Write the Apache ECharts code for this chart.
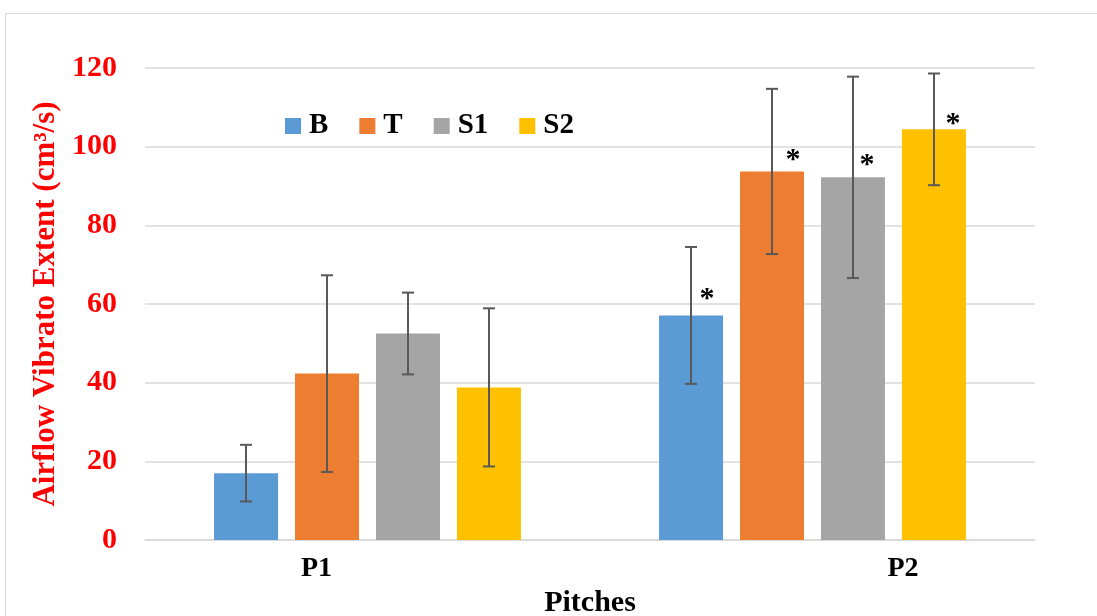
<!DOCTYPE html>
<html>
<head>
<meta charset="utf-8">
<script src="https://cdn.jsdelivr.net/npm/echarts@6/dist/echarts.min.js"></script>
<style>
html,body{margin:0;padding:0;background:#fff;}
#chart{width:1097px;height:616px;}
</style>
</head>
<body>
<div id="chart"></div>
<script>
const categories = ['P1', 'P2'];
const seriesNames = ['B', 'T', 'S1', 'S2'];
const meanB  = [17.0, 57.1];
const meanT  = [42.3, 93.7];
const meanS1 = [52.5, 92.2];
const meanS2 = [38.8, 104.4];
const errB  = [7.2, 17.4];
const errT  = [25.0, 21.0];
const errS1 = [10.4, 25.6];
const errS2 = [20.1, 14.2];
const significant = [false, true];
const yTicks = [0, 20, 40, 60, 80, 100, 120];

const means = [meanB, meanT, meanS1, meanS2];
const errs = [errB, errT, errS1, errS2];
const colors = ['#5B9BD5', '#ED7D31', '#A5A5A5', '#FFC000'];
const starOffsets = [[16, -6], [21, -1], [14, -2], [19, 5]];
const barOffsets = [-0.273, -0.091, 0.091, 0.273];
const serif = '"Liberation Serif", "Times New Roman", serif';

const chart = echarts.init(document.getElementById('chart'), null, {renderer: 'canvas'});

const series = [];
means.forEach((m, i) => {
  series.push({
    name: seriesNames[i],
    type: 'bar',
    barWidth: 64,
    barGap: '26.5%',
    itemStyle: {color: colors[i]},
    data: m.map((v, j) => ({
      value: v,
      label: {
        show: significant[j],
        position: 'top',
        distance: -5,
        offset: starOffsets[i],
        formatter: '*',
        color: '#000',
        fontFamily: serif,
        fontWeight: 'bold',
        fontSize: 30
      }
    }))
  });
});
means.forEach((m, i) => {
  series.push({
    type: 'custom',
    silent: true,
    z: 10,
    data: m.map((v, j) => [j, v - errs[i][j], v + errs[i][j]]),
    encode: {x: 0, y: [1, 2]},
    renderItem: function (params, api) {
      const band = api.size([1, 0])[0];
      const idx = api.value(0);
      const xc = api.coord([idx, 0])[0] + barOffsets[i] * band;
      const yl = api.coord([idx, api.value(1)])[1];
      const yh = api.coord([idx, api.value(2)])[1];
      const st = {stroke: '#595959', lineWidth: 2};
      const cap = 6;
      return {
        type: 'group',
        children: [
          {type: 'line', shape: {x1: xc, y1: yl, x2: xc, y2: yh}, style: st},
          {type: 'line', shape: {x1: xc - cap, y1: yh, x2: xc + cap, y2: yh}, style: st},
          {type: 'line', shape: {x1: xc - cap, y1: yl, x2: xc + cap, y2: yl}, style: st}
        ]
      };
    }
  });
});

chart.setOption({
  animation: false,
  backgroundColor: '#fff',
  graphic: [{
    type: 'rect',
    shape: {x: 5.5, y: 13.5, width: 1200, height: 800},
    style: {fill: 'none', stroke: '#d9d9d9', lineWidth: 1},
    silent: true
  }],
  legend: {
    data: seriesNames,
    left: 280,
    top: 104,
    icon: 'rect',
    itemWidth: 16,
    itemHeight: 16,
    itemGap: 31,
    textStyle: {
      fontFamily: serif,
      fontWeight: 'bold',
      fontSize: 29,
      color: '#000',
      lineHeight: 34,
      padding: [0, 0, 0, 3]
    }
  },
  grid: {left: 145, right: 62, top: 68, bottom: 76, outerBoundsMode: 'none', containLabel: false},
  xAxis: {
    type: 'category',
    data: categories,
    axisTick: {show: false},
    axisLine: {lineStyle: {color: '#d9d9d9', width: 1.5}},
    axisLabel: {
      margin: 15,
      formatter: function (v) { return v === 'P1' ? '{a|' + v + '}' : '{b|' + v + '}'; },
      rich: {
        a: {fontFamily: serif, fontWeight: 'bold', fontSize: 28, color: '#000', padding: [0, 102, 0, 0]},
        b: {fontFamily: serif, fontWeight: 'bold', fontSize: 28, color: '#000', padding: [0, 0, 0, 181]}
      }
    },
    name: 'Pitches',
    nameLocation: 'middle',
    nameGap: 45,
    nameTextStyle: {fontFamily: serif, fontWeight: 'bold', fontSize: 30, color: '#000'}
  },
  yAxis: {
    type: 'value',
    min: yTicks[0],
    max: yTicks[yTicks.length - 1],
    interval: 20,
    axisLine: {show: false},
    axisTick: {show: false},
    splitLine: {lineStyle: {color: '#d9d9d9', width: 1.5}},
    axisLabel: {
      margin: 28,
      fontFamily: serif,
      fontWeight: 'bold',
      fontSize: 30,
      color: '#FF0000'
    },
    name: 'Airflow Vibrato Extent (cm³/s)',
    nameLocation: 'middle',
    nameGap: 82,
    nameTextStyle: {fontFamily: serif, fontWeight: 'bold', fontSize: 31, color: '#FF0000'}
  },
  series: series
});
</script>
</body>
</html>
